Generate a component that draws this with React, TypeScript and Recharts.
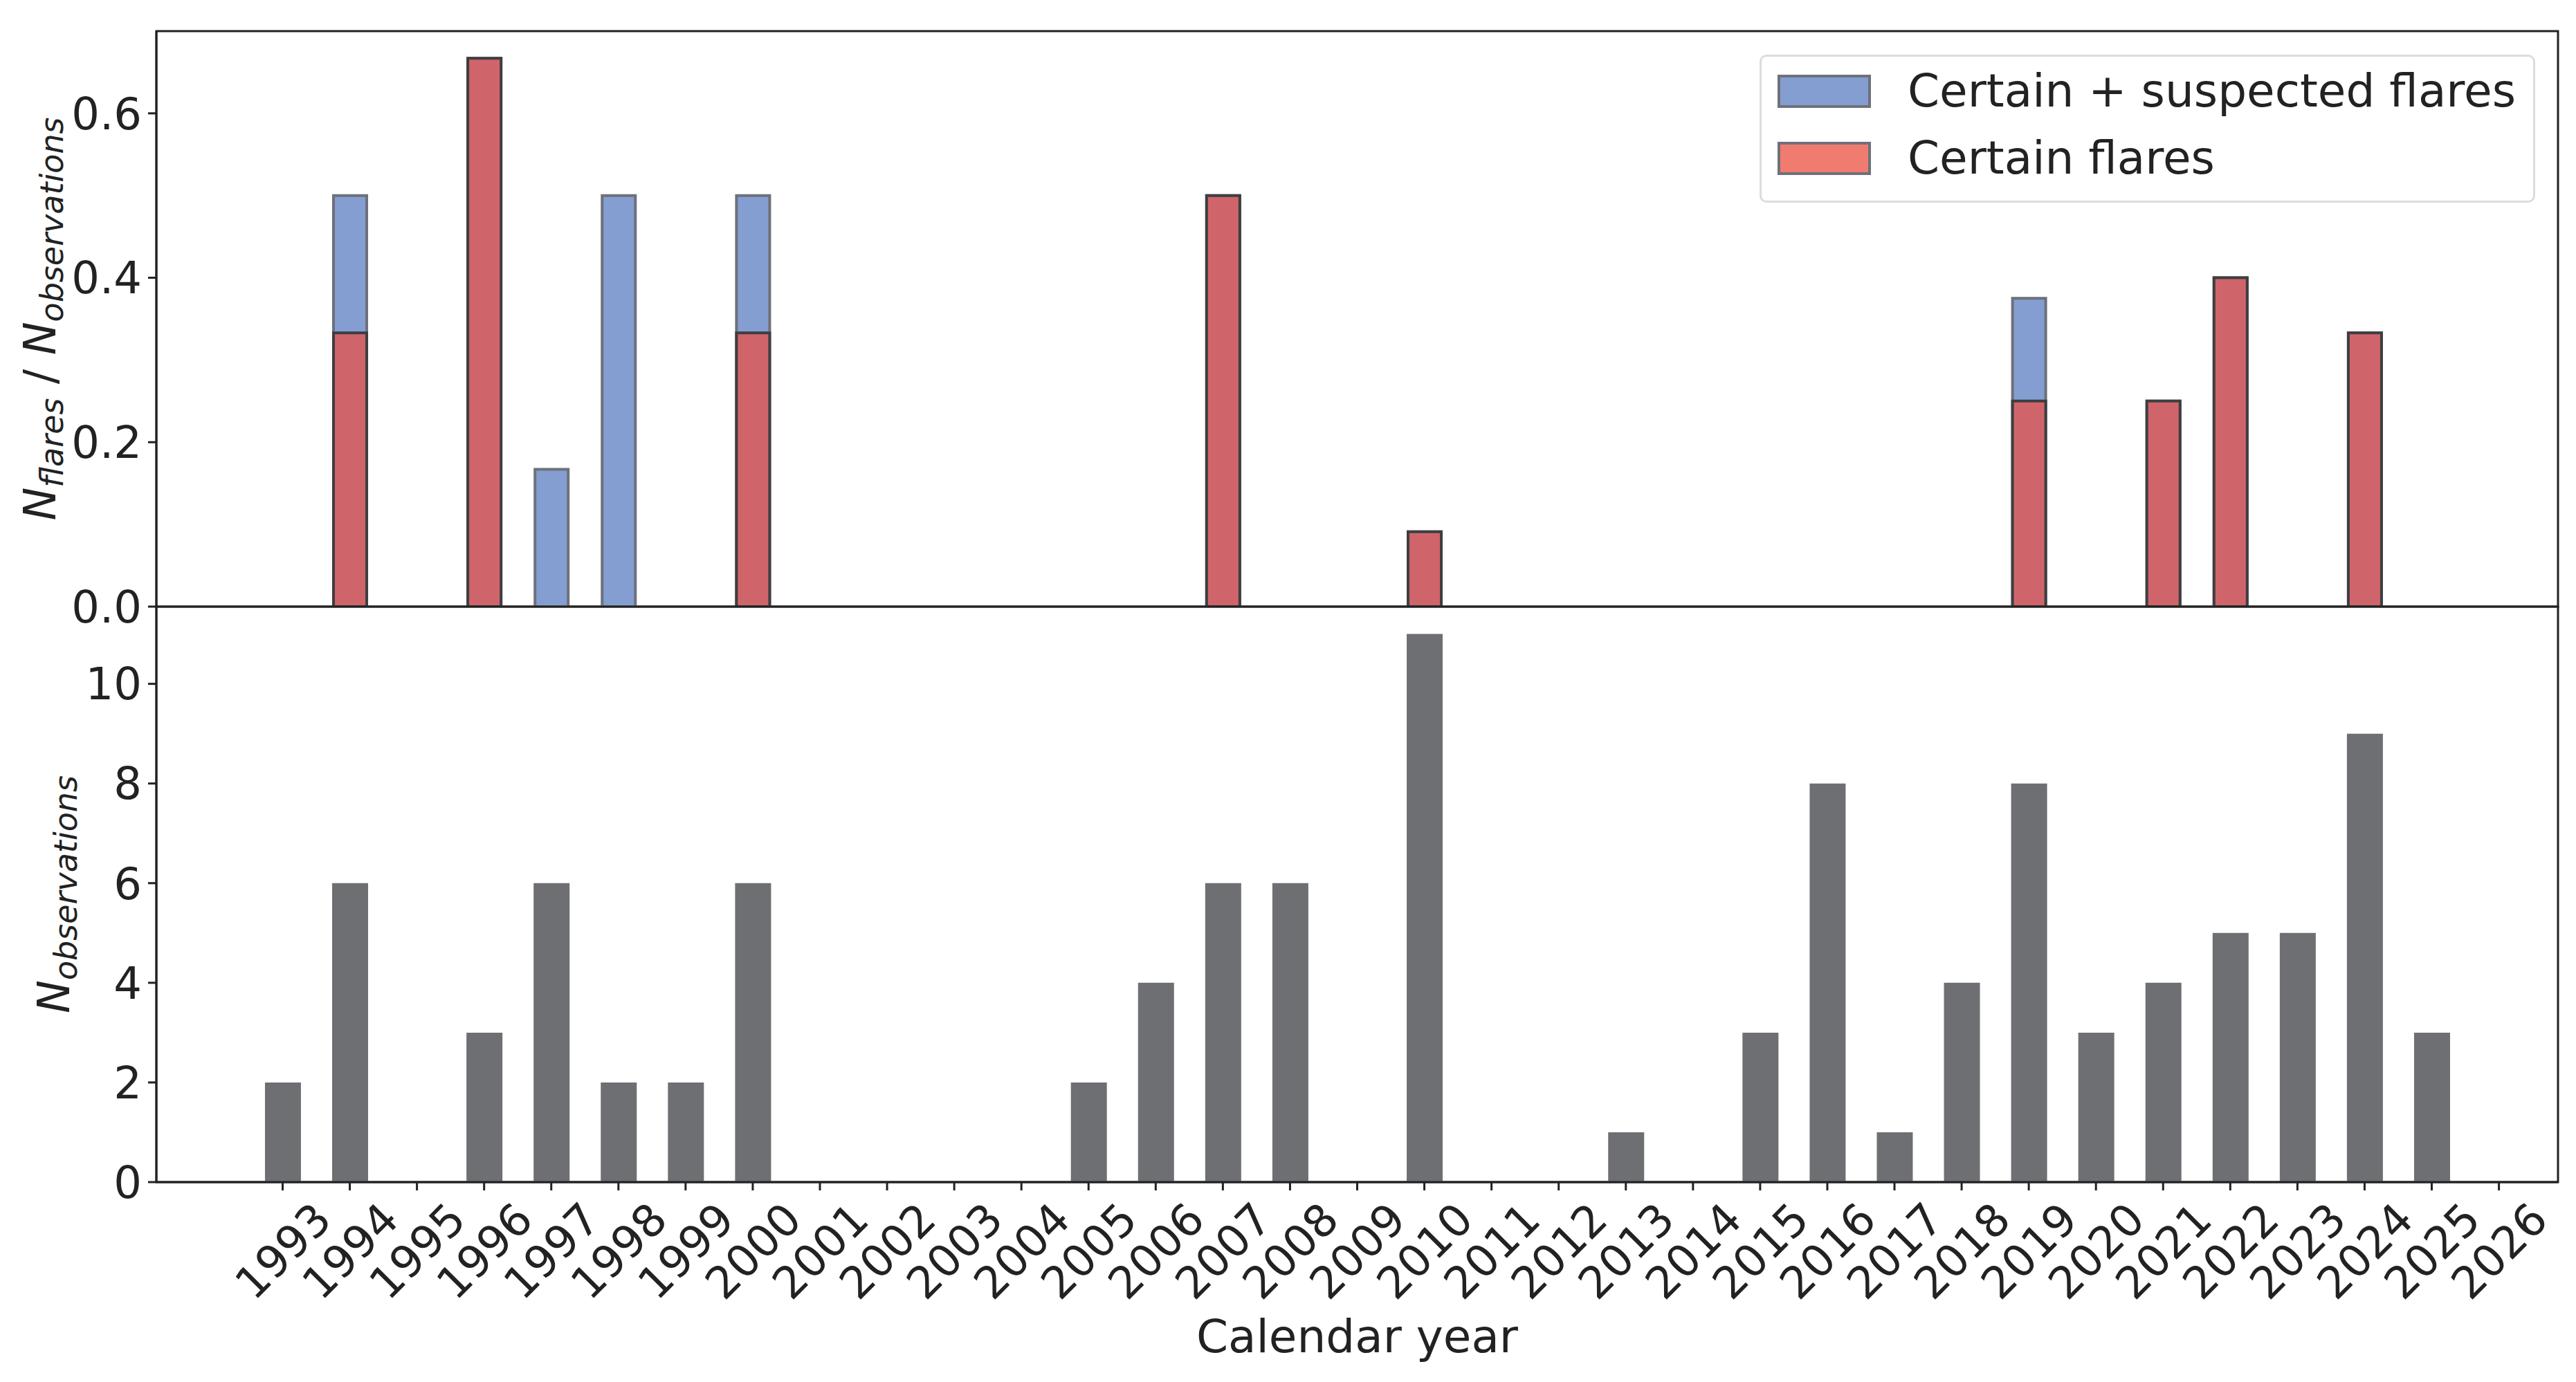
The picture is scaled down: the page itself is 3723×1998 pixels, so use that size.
import { BarChart, Bar, XAxis, YAxis, ReferenceArea } from "recharts";

/* ================= DATA ================= */
const years = [
  1993, 1994, 1995, 1996, 1997, 1998, 1999, 2000, 2001, 2002, 2003, 2004,
  2005, 2006, 2007, 2008, 2009, 2010, 2011, 2012, 2013, 2014, 2015, 2016,
  2017, 2018, 2019, 2020, 2021, 2022, 2023, 2024, 2025, 2026,
];

// fraction of observations with certain + suspected flares
const suspectedRatio = [
  0, 0.5, 0, 0.667, 0.167, 0.5, 0, 0.5, 0, 0, 0, 0,
  0, 0, 0.5, 0, 0, 0.091, 0, 0, 0, 0, 0, 0,
  0, 0, 0.375, 0, 0.25, 0.4, 0, 0.333, 0, 0,
];

// fraction of observations with certain flares only
const certainRatio = [
  0, 0.333, 0, 0.667, 0, 0, 0, 0.333, 0, 0, 0, 0,
  0, 0, 0.5, 0, 0, 0.091, 0, 0, 0, 0, 0, 0,
  0, 0, 0.25, 0, 0.25, 0.4, 0, 0.333, 0, 0,
];

const observations = [
  2, 6, 0, 3, 6, 2, 2, 6, 0, 0, 0, 0,
  2, 4, 6, 6, 0, 11, 0, 0, 1, 0, 3, 8,
  1, 4, 8, 3, 4, 5, 5, 9, 3, 0,
];

const ratioTicks = [0, 0.2, 0.4, 0.6];
const countTicks = [0, 2, 4, 6, 8, 10];

const rows = years.map((year, i) => ({
  year,
  suspected: suspectedRatio[i],
  certain: certainRatio[i],
  nObs: observations[i],
}));

/* ================= STYLE ================= */
const X_DOMAIN: [number, number] = [1991.12, 2026.88];
const RATIO_MAX = 0.7;
const COUNT_MAX = 11.55;

const colors = {
  text: "#222222",
  frame: "#222222",
  blue: "#849ED2",
  blueEdge: "#6E707A",
  red: "#CF656B",
  redEdge: "#3E3E40",
  gray: "#6E6F73",
  legendBorder: "#DCDCDC",
  legendRed: "#F07C70",
};

const FONT = "DejaVu Sans";
const tickStyle = { fill: colors.text, fontSize: 64, fontFamily: FONT };

/* ================= LABELS ================= */
function TopYLabel(props: any) {
  const vb = props.viewBox;
  const cy = vb.y + vb.height / 2;
  const x = 80;
  return (
    <text
      x={x}
      y={cy}
      transform={`rotate(-90, ${x}, ${cy})`}
      textAnchor="middle"
      fill={colors.text}
      fontFamily={FONT}
      fontStyle="italic"
      fontSize={64}
    >
      <tspan>N</tspan>
      <tspan dy={11} fontSize={46}>flares</tspan>
      <tspan dy={-11} fontStyle="normal"> / </tspan>
      <tspan>N</tspan>
      <tspan dy={11} fontSize={46}>observations</tspan>
    </text>
  );
}

function BottomYLabel(props: any) {
  const vb = props.viewBox;
  const cy = vb.y + vb.height / 2;
  const x = 100;
  return (
    <text
      x={x}
      y={cy}
      transform={`rotate(-90, ${x}, ${cy})`}
      textAnchor="middle"
      fill={colors.text}
      fontFamily={FONT}
      fontStyle="italic"
      fontSize={64}
    >
      <tspan>N</tspan>
      <tspan dy={11} fontSize={46}>observations</tspan>
    </text>
  );
}

function XLabel(props: any) {
  const vb = props.viewBox;
  return (
    <text
      x={vb.x + vb.width / 2}
      y={vb.y + 246}
      textAnchor="middle"
      fill={colors.text}
      fontFamily={FONT}
      fontSize={66}
    >
      Calendar year
    </text>
  );
}

function YearTick(props: any) {
  const { x, y, payload } = props;
  return (
    <g transform={`translate(${x},${y + 87}) rotate(-45)`}>
      <text textAnchor="middle" dy="0.36em" {...tickStyle}>
        {payload.value}
      </text>
    </g>
  );
}

/* ================= LEGEND ================= */
function FlareLegend() {
  const items = [
    { label: "Certain + suspected flares", fill: colors.blue, edge: colors.blueEdge },
    { label: "Certain flares", fill: colors.legendRed, edge: colors.blueEdge },
  ];
  return (
    <div
      style={{
        position: "absolute",
        left: 2543,
        top: 79,
        width: 1121,
        height: 214,
        boxSizing: "border-box",
        border: `3px solid ${colors.legendBorder}`,
        borderRadius: 10,
        background: "rgba(255,255,255,0.8)",
        fontFamily: FONT,
        fontSize: 66,
        color: colors.text,
      }}
    >
      {items.map((it, i) => (
        <div key={it.label}>
          <div
            style={{
              position: "absolute",
              left: 23,
              top: 26 + i * 97,
              width: 135,
              height: 48,
              boxSizing: "border-box",
              background: it.fill,
              border: `4px solid ${it.edge}`,
            }}
          />
          <div
            style={{
              position: "absolute",
              left: 211,
              top: 10 + i * 97,
              lineHeight: "80px",
              whiteSpace: "nowrap",
            }}
          >
            {it.label}
          </div>
        </div>
      ))}
    </div>
  );
}

/* ================= COMPONENT ================= */
export default function App() {
  return (
    <div
      style={{
        position: "absolute",
        left: 0,
        top: 0,
        width: 3723,
        height: 1998,
        background: "#ffffff",
        overflow: "hidden",
      }}
    >
      {/* -------- Top panel: flare fraction -------- */}
      <div style={{ position: "absolute", left: 0, top: 0 }}>
        <BarChart
          width={3723}
          height={930}
          data={rows}
          margin={{ top: 45, right: 26, bottom: 53, left: 0 }}
          barGap={-48}
        >
          <XAxis
            dataKey="year"
            type="number"
            domain={X_DOMAIN}
            allowDataOverflow
            hide
          />
          <YAxis
            type="number"
            domain={[0, RATIO_MAX]}
            ticks={ratioTicks}
            allowDataOverflow
            width={226}
            tickSize={12}
            tickMargin={9}
            tickFormatter={(v: number) => v.toFixed(1)}
            tick={tickStyle}
            tickLine={{ stroke: colors.frame, strokeWidth: 3 }}
            axisLine={{ stroke: colors.frame, strokeWidth: 3 }}
            label={TopYLabel}
          />
          <Bar
            dataKey="suspected"
            name="Certain + suspected flares"
            fill={colors.blue}
            stroke={colors.blueEdge}
            strokeWidth={4}
            barSize={48}
            isAnimationActive={false}
          />
          <Bar
            dataKey="certain"
            name="Certain flares"
            fill={colors.red}
            stroke={colors.redEdge}
            strokeWidth={4}
            barSize={48}
            isAnimationActive={false}
          />
          <ReferenceArea
            x1={X_DOMAIN[0]}
            x2={X_DOMAIN[1]}
            y1={0}
            y2={RATIO_MAX}
            fill="none"
            fillOpacity={0}
            stroke={colors.frame}
            strokeWidth={3}
            ifOverflow="visible"
          />
        </BarChart>
      </div>

      {/* -------- Bottom panel: number of observations -------- */}
      <div style={{ position: "absolute", left: 0, top: 820 }}>
        <BarChart
          width={3723}
          height={1178}
          data={rows}
          margin={{ top: 57, right: 26, bottom: 0, left: 0 }}
        >
          <XAxis
            dataKey="year"
            type="number"
            domain={X_DOMAIN}
            ticks={years}
            interval={0}
            allowDataOverflow
            height={289}
            tickSize={12}
            tickMargin={0}
            tick={YearTick}
            tickLine={{ stroke: colors.frame, strokeWidth: 3 }}
            axisLine={{ stroke: colors.frame, strokeWidth: 3 }}
            label={XLabel}
          />
          <YAxis
            type="number"
            domain={[0, COUNT_MAX]}
            ticks={countTicks}
            allowDataOverflow
            width={226}
            tickSize={12}
            tickMargin={9}
            tick={tickStyle}
            tickLine={{ stroke: colors.frame, strokeWidth: 3 }}
            axisLine={{ stroke: colors.frame, strokeWidth: 3 }}
            label={BottomYLabel}
          />
          <Bar
            dataKey="nObs"
            name="Observations"
            fill={colors.gray}
            barSize={52}
            isAnimationActive={false}
          />
          <ReferenceArea
            x1={X_DOMAIN[0]}
            x2={X_DOMAIN[1]}
            y1={0}
            y2={COUNT_MAX}
            fill="none"
            fillOpacity={0}
            stroke={colors.frame}
            strokeWidth={3}
            ifOverflow="visible"
          />
        </BarChart>
      </div>

      <FlareLegend />
    </div>
  );
}
